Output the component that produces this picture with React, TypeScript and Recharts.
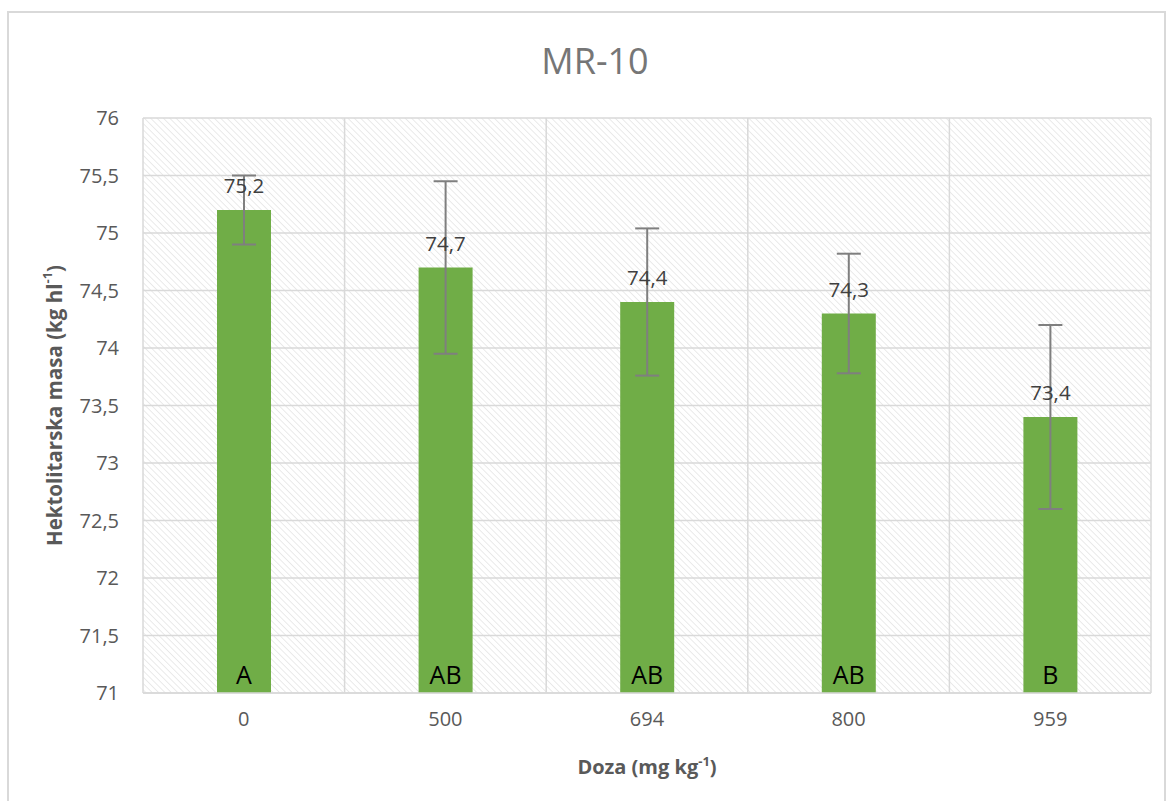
import React from 'react';
import { BarChart, Bar, XAxis, YAxis, CartesianGrid, ErrorBar, LabelList, Label } from 'recharts';

const categories = ['0', '500', '694', '800', '959'];
const means = [75.2, 74.7, 74.4, 74.3, 73.4];
const errors = [0.3, 0.75, 0.64, 0.52, 0.8];
const letters = ['A', 'AB', 'AB', 'AB', 'B'];
const yTicks = [71, 71.5, 72, 72.5, 73, 73.5, 74, 74.5, 75, 75.5, 76];

const data = categories.map((c, i) => ({ doza: c, mean: means[i], err: errors[i], letter: letters[i] }));

const FONT = '"Open Sans", sans-serif';
const fmt = (v: number) => String(v).replace('.', ',');

const LetterLabel = (props: any) => {
  const { x, y, width, height, value } = props;
  return (
    <text x={x + width / 2} y={y + height - 9} textAnchor="middle" fontSize={25} fill="#000" fontFamily={FONT}>
      {value}
    </text>
  );
};

const XTitle = (props: any) => {
  const vb = props.viewBox;
  const cx = vb.x + vb.width / 2;
  return (
    <text x={cx} y={vb.y + 81} textAnchor="middle" fontSize={20} fontWeight="bold" fill="#595959" fontFamily={FONT}>
      Doza (mg kg<tspan fontSize={13} dy={-8}>-1</tspan><tspan dy={8}>)</tspan>
    </text>
  );
};

const YTitle = (props: any) => {
  const vb = props.viewBox;
  const cy = vb.y + vb.height / 2;
  const x = 57;
  return (
    <text x={x} y={cy} transform={`rotate(-90 ${x} ${cy})`} textAnchor="middle" dominantBaseline="middle" fontSize={20.5} fontWeight="bold" fill="#595959" fontFamily={FONT}>
      Hektolitarska masa (kg hl<tspan fontSize={13} dy={-8}>-1</tspan><tspan dy={8}>)</tspan>
    </text>
  );
};

export default function App() {
  return (
    <div style={{ position: 'absolute', left: 0, top: 0, width: 1169, height: 801, background: '#fff', fontFamily: FONT }}>
      <svg width={0} height={0} style={{ position: 'absolute' }}>
        <defs>
          <pattern id="hatch" width={4.5} height={4.5} patternUnits="userSpaceOnUse" patternTransform="rotate(-45)">
            <rect width={4.5} height={4.5} fill="#ffffff" />
            <line x1={0} y1={0} x2={0} y2={4.5} stroke="#e0e0e0" strokeWidth={1.3} />
          </pattern>
        </defs>
      </svg>
      <div style={{ position: 'absolute', left: 7, top: 11, width: 1159, height: 800, border: '2px solid #d9d9d9', boxSizing: 'border-box' }} />
      <div style={{ position: 'absolute', left: 0, width: 1190, top: 36, textAlign: 'center', fontSize: 36, color: '#767676', fontFamily: FONT }}>
        MR-10
      </div>
      <div style={{ position: 'absolute', left: 0, top: 0 }}>
        <BarChart width={1169} height={801} data={data} margin={{ top: 118, right: 18, bottom: 78, left: 83 }}>
          <CartesianGrid
            stroke="#d9d9d9"
            strokeWidth={1.5}
            fill="url(#hatch)"
            fillOpacity={1}
            verticalCoordinatesGenerator={({ offset }: any) =>
              categories.map((_, i) => offset.left + (i * offset.width) / categories.length).concat([offset.left + offset.width])
            }
          />
          <XAxis dataKey="doza" axisLine={{ stroke: '#d9d9d9', strokeWidth: 1.5 }} tickLine={false} tickSize={0} tickMargin={19} height={30}
            tick={{ fontSize: 20, fill: '#595959', fontFamily: FONT }}>
            <Label content={<XTitle />} />
          </XAxis>
          <YAxis domain={[71, 76]} ticks={yTicks} allowDataOverflow axisLine={false} tickLine={false} tickSize={0} tickMargin={24} width={60}
            tickFormatter={fmt} tick={{ fontSize: 20, fill: '#595959', fontFamily: FONT }}>
            <Label content={<YTitle />} />
          </YAxis>
          <Bar dataKey="mean" fill="#70ad47" barSize={54} isAnimationActive={false}>
            <ErrorBar dataKey="err" width={12} strokeWidth={2} stroke="#7f7f7f" direction="y" />
            <LabelList dataKey="mean" position="top" offset={17} formatter={(v: any) => fmt(v)} fontSize={20.5} fill="#404040" fontFamily={FONT} />
            <LabelList dataKey="letter" content={<LetterLabel />} />
          </Bar>
        </BarChart>
      </div>
    </div>
  );
}
